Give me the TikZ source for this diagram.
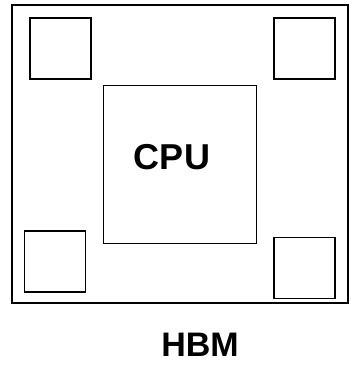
\documentclass[tikz,border=0pt]{standalone}
\usepackage{fontspec}
\setmainfont{Liberation Sans}
\usetikzlibrary{positioning}

\begin{document}
\begin{tikzpicture}[x=1pt,y=-1pt]
        \useasboundingbox (0,0) rectangle (351,367);

        \edef\sizehbm{61pt}
        \tikzstyle{board}=[draw,line width=1.6pt,inner sep=0pt,minimum width=336pt,minimum height=298pt]
        \tikzstyle{hbm}=[draw,line width=1.3pt,inner sep=0pt,minimum size=\sizehbm]
        \tikzstyle{cpu}=[draw,line width=0.8pt,inner sep=0pt,minimum width=153pt,minimum height=158pt]
        \tikzstyle{label}=[draw=none,font=\bfseries\fontsize{34}{40}\selectfont]

        \node [board] at (180,154) (package) {};

        % four memory stacks in the corners
        \node [hbm] at (60.5,48.5) (hbm_nw) {};
        \node [hbm] at (304.5,48.5) (hbm_ne) {};
        \node [hbm] at (55,261.5) (hbm_sw) {};
        \node [hbm] at (304.5,268) (hbm_se) {};

        \node [cpu] at (179.5,164) (cpu) {};
        \node [label,font=\bfseries\fontsize{36}{42}\selectfont] at (172,157) (cpu_label) {CPU};

        \node [label] at (200,345) (hbm_label) {HBM};

        \end{tikzpicture}
\end{document}
